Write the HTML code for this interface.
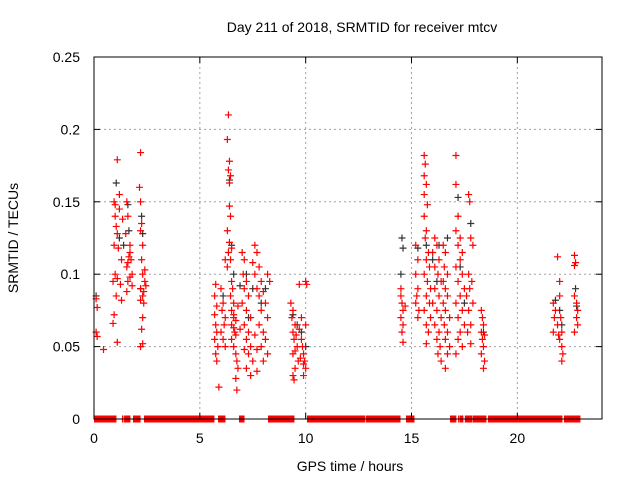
<!DOCTYPE html>
<html><head><meta charset="utf-8"><style>
body{margin:0;background:#fff;font-family:"Liberation Sans",sans-serif}
svg text{font-family:"Liberation Sans",sans-serif;font-size:14px;fill:#000}
</style></head><body>
<svg id="chart" width="640" height="480" xmlns="http://www.w3.org/2000/svg">
<text x="362" y="32" text-anchor="middle">Day 211 of 2018, SRMTID for receiver mtcv</text>
<text x="350" y="471" text-anchor="middle">GPS time / hours</text>
<text transform="translate(18,238) rotate(-90)" text-anchor="middle">SRMTID / TECUs</text>
<g id="grid"></g><g id="zero"></g><g id="marks"></g><g id="axes"></g>
</svg>
<script>
const xTicks=[0,5,10,15,20];
const yTicks=[0,0.05,0.1,0.15,0.2,0.25];
const yTickLabels=["0","0.05","0.1","0.15","0.2","0.25"];
const zeroRanges=[[0,0.19],[0.24,0.99],[1.32,1.32],[1.42,1.65],[1.84,2.13],[2.36,5.62],[5.86,6.14],[6.85,7.04],[8.22,9.4],[10.06,12.75],[12.85,14.41],[14.74,15.07],[16.82,17.05],[17.2,17.2],[17.29,17.38],[17.52,17.81],[17.9,18.47],[18.61,21.63],[21.68,21.92],[21.97,22.06],[22.2,22.72],[22.77,22.91]];
const redPoints=[
[0.1,0.083],[0.15,0.077],[0.1,0.06],[0.15,0.057],[0.45,0.048],
[0.95,0.15],[1.0,0.148],[1.1,0.179],[1.0,0.14],[1.05,0.133],[1.2,0.145],[1.1,0.128],[0.95,0.12],[1.15,0.118],[1.3,0.11],[1.0,0.1],[1.1,0.097],[0.9,0.095],[1.25,0.093],[1.05,0.085],[1.3,0.082],[0.95,0.072],[0.9,0.066],[1.1,0.053],[1.2,0.155],[1.35,0.138],
[1.55,0.15],[1.6,0.14],[1.5,0.128],[1.7,0.12],[1.65,0.112],[1.75,0.11],[1.6,0.108],[1.55,0.105],[1.7,0.098],[1.6,0.095],[1.8,0.092],[1.55,0.088],[1.7,0.115],[1.8,0.1],
[2.2,0.184],[2.15,0.16],[2.2,0.15],[2.25,0.135],[2.2,0.13],[2.3,0.12],[2.25,0.11],[2.4,0.103],[2.3,0.1],[2.4,0.095],[2.2,0.09],[2.35,0.088],[2.3,0.085],[2.2,0.082],[2.35,0.08],[2.3,0.07],[2.25,0.062],[2.3,0.052],[2.2,0.05],[2.45,0.092],
[5.75,0.093],[5.7,0.085],[5.8,0.078],[5.7,0.072],[5.75,0.065],[5.8,0.06],[5.7,0.055],[5.85,0.05],[5.75,0.045],[5.8,0.04],[5.9,0.022],[6.2,0.11],[6.0,0.09],[6.1,0.08],[6.05,0.075],[6.2,0.07],[6.15,0.065],[6.0,0.06],[6.1,0.055],[6.2,0.05],
[6.35,0.21],[6.3,0.193],[6.4,0.178],[6.35,0.172],[6.45,0.168],[6.4,0.163],[6.4,0.147],[6.45,0.14],[6.3,0.13],[6.4,0.122],[6.5,0.118],[6.35,0.115],[6.45,0.11],[6.3,0.105],[6.5,0.095],[6.55,0.09],[6.45,0.085],[6.6,0.08],[6.5,0.075],[6.6,0.072],[6.7,0.068],[6.5,0.065],[6.6,0.063],[6.65,0.06],[6.7,0.058],[6.5,0.055],[6.6,0.05],[6.7,0.045],[6.75,0.04],[6.7,0.028],[6.75,0.02],[6.8,0.035],[6.6,0.07],[6.8,0.078],[6.9,0.062],
[7.0,0.115],[7.1,0.11],[7.05,0.1],[7.2,0.095],[7.1,0.09],[7.3,0.085],[7.0,0.08],[7.2,0.075],[7.4,0.07],[7.1,0.065],[7.3,0.06],[7.2,0.055],[7.4,0.05],[7.1,0.048],[7.3,0.045],[7.5,0.04],[7.2,0.035],[7.4,0.03],[7.6,0.12],[7.7,0.115],[7.8,0.105],[7.6,0.1],[7.9,0.095],[7.7,0.09],[8.0,0.088],[7.8,0.085],[8.1,0.08],[7.9,0.075],[8.2,0.07],[7.8,0.065],[8.0,0.06],[8.1,0.055],[7.9,0.05],[8.2,0.045],[8.0,0.04],[7.7,0.033],[8.2,0.1],[8.3,0.095],[7.5,0.108],[7.6,0.058],[7.7,0.048],
[9.3,0.08],[9.4,0.075],[9.35,0.07],[9.5,0.065],[9.4,0.06],[9.55,0.058],[9.45,0.055],[9.6,0.05],[9.5,0.047],[9.4,0.045],[9.65,0.04],[9.5,0.035],[9.4,0.03],[9.45,0.027],[9.7,0.093],[9.7,0.062],[9.8,0.055],[9.85,0.05],[9.9,0.045],[9.75,0.042],[9.95,0.04],[9.9,0.038],[10.0,0.035],[9.9,0.03],[10.0,0.095],[10.05,0.093],[9.8,0.07],[10.0,0.065],
[14.5,0.085],[14.55,0.08],[14.6,0.075],[14.5,0.07],[14.6,0.065],[14.55,0.06],[14.6,0.053],[14.7,0.078],[14.5,0.09],
[15.2,0.12],[15.3,0.11],[15.2,0.1],[15.3,0.09],[15.25,0.085],[15.2,0.08],[15.35,0.075],[15.3,0.07],
[15.6,0.182],[15.65,0.176],[15.6,0.168],[15.7,0.162],[15.6,0.155],[15.75,0.148],[15.6,0.14],[15.7,0.13],[15.65,0.125],[15.8,0.115],[15.7,0.11],[15.85,0.105],[15.6,0.1],[15.75,0.095],[15.9,0.09],[15.7,0.085],[15.85,0.08],[15.6,0.075],[15.9,0.07],[15.7,0.065],[15.8,0.06],[15.7,0.052],
[16.1,0.125],[16.2,0.12],[16.0,0.115],[16.3,0.11],[16.1,0.105],[16.25,0.1],[16.4,0.095],[16.1,0.09],[16.3,0.085],[16.0,0.08],[16.2,0.075],[16.4,0.07],[16.1,0.065],[16.3,0.06],[16.2,0.055],[16.35,0.05],[16.25,0.045],[16.4,0.04],[16.5,0.12],[16.6,0.115],[16.55,0.105],[16.7,0.1],[16.5,0.095],[16.6,0.09],[16.7,0.085],[16.5,0.08],[16.6,0.075],[16.8,0.07],[16.55,0.065],[16.7,0.06],[16.6,0.055],[16.8,0.05],[16.7,0.045],[16.6,0.035],
[17.1,0.182],[17.1,0.162],[17.2,0.14],[17.1,0.13],[17.3,0.125],[17.2,0.12],[17.4,0.115],[17.3,0.11],[17.1,0.105],[17.4,0.1],[17.2,0.095],[17.5,0.09],[17.3,0.085],[17.1,0.08],[17.4,0.075],[17.2,0.07],[17.5,0.065],[17.3,0.06],[17.2,0.055],[17.4,0.05],[17.1,0.045],
[17.7,0.155],[17.75,0.15],[17.8,0.125],[17.9,0.12],[17.7,0.1],[17.85,0.095],[17.75,0.09],[17.6,0.085],[17.9,0.08],[17.7,0.075],[17.8,0.065],[17.65,0.06],[17.8,0.052],
[18.3,0.075],[18.35,0.07],[18.4,0.065],[18.3,0.06],[18.45,0.058],[18.35,0.055],[18.4,0.05],[18.3,0.045],[18.45,0.04],[18.4,0.035],
[21.7,0.08],[21.8,0.075],[21.75,0.07],[21.9,0.065],[21.7,0.06],[21.95,0.058],[21.9,0.112],[22.0,0.095],[22.0,0.085],[22.05,0.07],[22.1,0.06],[22.0,0.055],[22.1,0.05],[22.15,0.045],[22.1,0.04],
[22.7,0.113],[22.75,0.108],[22.7,0.106],[22.7,0.085],[22.8,0.08],[22.85,0.075],[22.8,0.07],[22.85,0.065],[22.7,0.06]
];
const blackPoints=[
[0.1,0.085],[1.05,0.163],[1.2,0.125],[1.4,0.12],[1.6,0.148],[1.65,0.13],[2.25,0.14],[2.3,0.128],[2.2,0.09],
[6.4,0.165],[6.5,0.12],[6.6,0.1],[6.1,0.085],[6.9,0.092],[7.2,0.1],[7.5,0.09],[7.9,0.08],[8.1,0.09],[7.3,0.07],
[9.4,0.072],[9.6,0.065],[9.8,0.06],[10.0,0.05],
[14.55,0.125],[14.6,0.118],[14.5,0.1],[15.3,0.118],[15.7,0.12],[16.0,0.11],[16.3,0.12],[16.7,0.125],[17.2,0.153],[17.3,0.105],[17.8,0.135],[17.5,0.08],[16.2,0.095],[18.4,0.06],
[21.8,0.082],[22.0,0.075],[22.1,0.065],[22.75,0.09],[22.8,0.078]
];
const NS="http://www.w3.org/2000/svg";
const L=94,R=602,T=57,B=419,xMax=24,yMax=0.25;
function xs(h){return L+h/xMax*(R-L);}
function ys(v){return B-v/yMax*(B-T);}
function mk(tag,attrs,parent){const e=document.createElementNS(NS,tag);for(const k in attrs)e.setAttribute(k,attrs[k]);parent.appendChild(e);return e;}
const grid=document.getElementById('grid'),zero=document.getElementById('zero'),marks=document.getElementById('marks'),axes=document.getElementById('axes');
xTicks.forEach(t=>{const x=xs(t);
 if(t>0){const g=mk('line',{x1:x,x2:x,y1:T,y2:B,stroke:'#a0a0a0','stroke-dasharray':'2,3','stroke-width':1},grid);
 
 }
 mk('line',{x1:x,x2:x,y1:B,y2:B-6,stroke:'#000'},axes);mk('line',{x1:x,x2:x,y1:T,y2:T+6,stroke:'#000'},axes);
 const tx=mk('text',{x:x,y:B+24,'text-anchor':'middle'},axes);tx.textContent=t;
 
 });
yTicks.forEach((t,i)=>{const y=ys(t);
 if(t>0&&t<yMax){const g=mk('line',{x1:L,x2:R,y1:y,y2:y,stroke:'#a0a0a0','stroke-dasharray':'2,3','stroke-width':1},grid);
 
 }
 mk('line',{x1:L,x2:L+6,y1:y,y2:y,stroke:'#000'},axes);mk('line',{x1:R,x2:R-6,y1:y,y2:y,stroke:'#000'},axes);
 const tx=mk('text',{x:L-14,y:y+5,'text-anchor':'end'},axes);tx.textContent=yTickLabels[i];
 
 });
const frame=mk('rect',{x:L,y:T,width:R-L,height:B-T,fill:'none',stroke:'#000','stroke-width':1},axes);


zeroRanges.forEach(r=>{const x1=xs(r[0]),x2=xs(r[1])+1.5;
 const z=mk('rect',{x:x1,y:B-3.5,width:x2-x1,height:7,fill:'#ff0000'},zero);
 
 });
function plus(p,color,name){const x=xs(p[0]),y=ys(p[1]);
 const g=mk('path',{d:`M${x-3.5},${y}H${x+3.5}M${x},${y-3.5}V${y+3.5}`,stroke:color,'stroke-width':1.2,fill:'none'},marks);
 
 }
blackPoints.forEach(p=>plus(p,'#333','black-point'));
redPoints.forEach(p=>plus(p,'#ff0000','red-point'));
</script>
</body></html>
